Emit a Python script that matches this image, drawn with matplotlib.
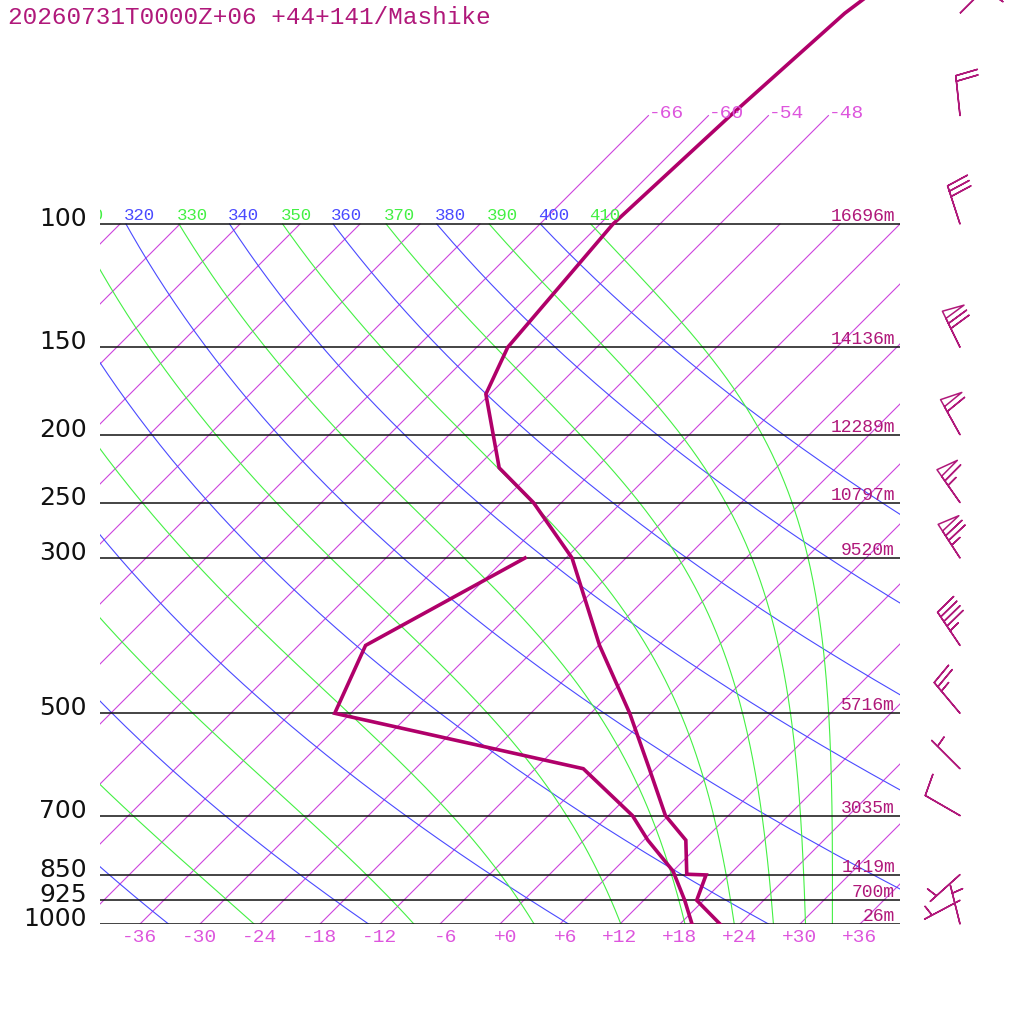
import numpy as np
import matplotlib
matplotlib.use("Agg")
import matplotlib.pyplot as plt
from matplotlib.transforms import offset_copy

title = "20260731T0000Z+06 +44+141/Mashike"

# temperature profile (hPa, degC)
t_pres = [1000, 925, 851, 849, 759, 700, 600, 500, 400, 300, 250, 223, 175, 150, 100, 70, 50, 30]
t_temp = [22.0, 17.3, 15.7, 13.7, 10.2, 5.7, -0.6, -8.1, -17.9, -29.4, -38.8, -45.7, -54.4, -56.9, -58.7, -57.8, -56.6, -51.5]

# dewpoint profile
td_pres = [1000, 925, 840, 759, 700, 600, 500, 400, 300]
td_temp = [19.2, 16.1, 12.0, 6.4, 2.4, -7.2, -37.6, -41.3, -34.1]

# standard levels + heights
std_levels = [100, 150, 200, 250, 300, 500, 700, 850, 925, 1000]
std_labels = ["100", "150", "200", "250", "300", "500", "700", "850", "925", "1000"]
hgt_labels = ["16696m", "14136m", "12289m", "10797m", "9520m", "5716m", "3035m", "1419m", "700m", "26m"]

# winds: direction (from), speed
wind_pres = [50, 70, 100, 150, 200, 250, 300, 400, 500, 600, 700, 850, 925, 1000]
wind_dir = [45, 354, 342, 334, 331, 325, 327, 326, 320, 315, 300, 228, 242, 346]
wind_spd = [20, 20, 30, 70, 60, 65, 75, 45, 25, 5, 10, 5, 5, 5]

# background lines
isotherms = list(range(-108, 37, 6))
iso_labelled = [-66, -60, -54, -48]
dry_theta = list(range(240, 401, 20))
moist_thetae = list(range(250, 411, 20))
theta_labels = list(range(310, 411, 10))
t_ticks = list(range(-36, 37, 6))

SKEW = 70.0
P_TOP = 1000 * 10 ** (-924 / 700)

C_PROF = "#b0006a"
C_TEXT = "#b0187a"
C_ISO = "#cc44dd"
C_ISO_LBL = "#dd55dd"
C_DRY = "#4a4aff"
C_MOIST = "#44f044"
MONO = "Liberation Mono"


def skew_x(t, p):
    return np.asarray(t, dtype=float) + SKEW * np.log10(1000.0 / np.asarray(p, dtype=float))


def theta_e(tc, p):
    tk = tc + 273.15
    es = 6.112 * np.exp(17.67 * tc / (tc + 243.5))
    r = 622.0 * es / (p - es)
    return tk * (1000.0 / p) ** (0.2854 * (1 - 0.00028 * r)) * np.exp((3.376 / tk - 0.00254) * r * (1 + 0.00081 * r))


def moist_temp(the, p):
    lo = np.full_like(p, -160.0)
    hi = np.full_like(p, 40.0)
    for _ in range(50):
        mid = (lo + hi) / 2
        above = theta_e(mid, p) > the
        hi = np.where(above, mid, hi)
        lo = np.where(above, lo, mid)
    return (lo + hi) / 2


def off(dx, dy):
    return offset_copy(ax.transData, fig, x=dx, y=dy, units="dots")


fig = plt.figure(figsize=(10.24, 10.24), dpi=100)
ax = fig.add_axes([100 / 1024, 100 / 1024, 800 / 1024, 924 / 1024])
ax.set_yscale("log")
ax.set_xlim(-40, 40)
ax.set_ylim(1000, P_TOP)
ax.axis("off")

pp = np.logspace(3, 2, 150)

# isotherms
for t in isotherms:
    ptop = 70 if t in iso_labelled else 100
    pl = np.array([1000.0, ptop])
    ax.plot(skew_x(t, pl), pl, color=C_ISO, lw=0.8)
    if t in iso_labelled:
        ax.text(skew_x(t, 70), 70, f"{t:d}", ha="left", va="baseline", color=C_ISO_LBL,
                family=MONO, size=14, transform=off(0, -2))

# dry adiabats
top_x = {}
for th in dry_theta:
    tt = th * (pp / 1000.0) ** 0.2857 - 273.15
    ax.plot(skew_x(tt, pp), pp, color=C_DRY, lw=0.8)
    top_x[th] = float(skew_x(tt[-1], 100))

# pseudo-adiabats
with np.errstate(all="ignore"):
    for the in moist_thetae:
        tt = moist_temp(the, pp)
        ax.plot(skew_x(tt, pp), pp, color=C_MOIST, lw=0.8)
    for the in theta_labels:
        if the not in top_x:
            top_x[the] = float(skew_x(moist_temp(the, np.array([100.0]))[0], 100))

for th in theta_labels:
    col = C_DRY if (th // 10) % 2 == 0 else C_MOIST
    ax.text(top_x[th], 100, str(th), ha="left", va="baseline", color=col, family=MONO,
            size=12.5, clip_on=True, transform=off(-2, 4))

# pressure lines and labels
for p, lab, h in zip(std_levels, std_labels, hgt_labels):
    ax.axhline(p, color="#111111", lw=1.1)
    ax.text(-40, p, lab, ha="right", va="baseline", color="#111111", family="DejaVu Sans",
            size=18, transform=off(-13, -2), clip_on=False)
    ax.text(39.5, p, h, ha="right", va="baseline", color=C_TEXT, family=MONO, size=13,
            transform=off(0, 3))

# temperature axis labels
for t in t_ticks:
    ax.text(t, 1000, f"{t:+d}", ha="right", va="top", color=C_ISO_LBL, family=MONO, size=14,
            transform=off(17, -5), clip_on=False)

# sounding
ax.plot(skew_x(t_temp, t_pres), t_pres, color=C_PROF, lw=2.6, solid_joinstyle="miter")
ax.plot(skew_x(td_temp, td_pres), td_pres, color=C_PROF, lw=2.6, solid_joinstyle="miter")

# wind barbs
wd = np.radians(wind_dir)
u = -np.array(wind_spd) * np.sin(wd)
v = -np.array(wind_spd) * np.cos(wd)
b = ax.barbs(np.full(len(wind_pres), 46.0), wind_pres, u, v, length=7.6, barbcolor=C_TEXT,
             flagcolor="none", linewidth=1.1, sizes=dict(height=0.55, width=0.2, spacing=0.14))
b.set_clip_on(False)

fig.text(8 / 1024, 1 - 6 / 1024, title, ha="left", va="top", color=C_TEXT, family=MONO, size=17.6)

fig.savefig("out.png", dpi=100, facecolor="white")
